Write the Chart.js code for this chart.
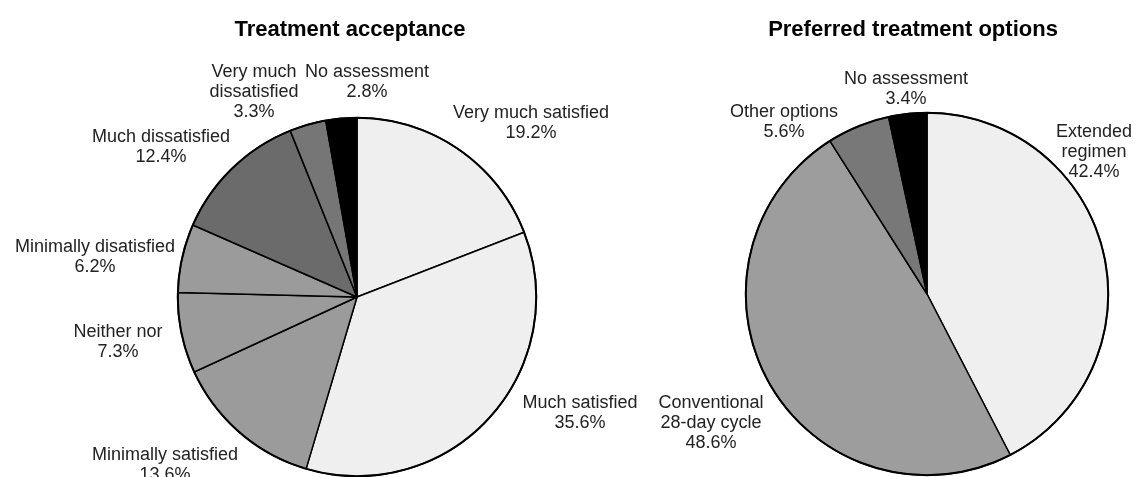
<!DOCTYPE html>
<html>
<head>
<meta charset="utf-8">
<script src="https://cdn.jsdelivr.net/npm/chart.js@4/dist/chart.umd.min.js"></script>
<style>
  html, body { margin: 0; padding: 0; background: #fff; }
  #wrap { position: relative; width: 1137px; height: 477px; overflow: hidden; }
  .box { position: absolute; top: 0; height: 477px; }
</style>
</head>
<body>
<div id="wrap">
  <div class="box" style="left:0;width:700px"><canvas id="accChart"></canvas></div>
  <div class="box" style="left:570px;width:567px"><canvas id="prefChart"></canvas></div>
</div>
<script>
// left pie: treatment acceptance (percent)
var accTitle = "Treatment acceptance";
var accLabels = ["Very much satisfied", "Much satisfied", "Minimally satisfied", "Neither nor",
                 "Minimally disatisfied", "Much dissatisfied", "Very much\ndissatisfied", "No assessment"];
var accValues = [19.2, 35.6, 13.6, 7.3, 6.2, 12.4, 3.3, 2.8];
var accColors = ["#efefef", "#efefef", "#9b9b9b", "#9b9b9b", "#9b9b9b", "#6b6b6b", "#767676", "#000000"];

// right pie: preferred treatment options (percent)
var prefTitle = "Preferred treatment options";
var prefLabels = ["Extended\nregimen", "Conventional\n28-day cycle", "Other options", "No assessment"];
var prefValues = [42.4, 48.6, 5.6, 3.4];
var prefColors = ["#efefef", "#9d9d9d", "#787878", "#000000"];

// where each label sits, relative to the pie centre
var accLabelPos = [[174, -184], [223, 106], [-192, 158], [-239, 35], [-262, -50], [-196, -160], [-103, -225], [10, -225]];
var prefLabelPos = [[167, -162], [-216, 109], [-143, -182], [-21, -215]];

var FONT = "'Liberation Sans', Arial, Helvetica, sans-serif";

var pieText = {
    id: "pieText",
    afterDraw: function(chart, args, opts) {
        var ctx = chart.ctx;
        var arcs = chart.getDatasetMeta(0).data;
        var cx = arcs[0].x, cy = arcs[0].y, r = arcs[0].outerRadius;
        ctx.save();
        // heavier outer rim
        ctx.beginPath();
        ctx.arc(cx, cy, r, 0, Math.PI * 2);
        ctx.lineWidth = 2;
        ctx.strokeStyle = "#000";
        ctx.stroke();

        ctx.textAlign = "center";
        ctx.textBaseline = "middle";
        ctx.fillStyle = "#000";
        ctx.font = "bold 22px " + FONT;
        ctx.fillText(opts.title, cx + opts.titleDx, 30);

        ctx.fillStyle = "#222";
        ctx.font = "18px " + FONT;
        var labels = chart.data.labels;
        var values = chart.data.datasets[0].data;
        for (var i = 0; i < labels.length; i++) {
            var lines = labels[i].split("\n");
            lines.push(values[i].toFixed(1) + "%");
            var p = opts.pos[i];
            for (var j = 0; j < lines.length; j++) {
                ctx.fillText(lines[j], cx + p[0], cy + p[1] + j * 20);
            }
        }
        ctx.restore();
    }
};

function makePie(id, labels, values, colors, title, titleDx, pos, padding) {
    return new Chart(document.getElementById(id), {
        type: "pie",
        data: {
            labels: labels,
            datasets: [{
                data: values,
                backgroundColor: colors,
                borderColor: "#000",
                borderWidth: 1.5
            }]
        },
        options: {
            responsive: true,
            maintainAspectRatio: false,
            animation: false,
            layout: { padding: padding },
            plugins: {
                legend: { display: false },
                tooltip: { enabled: false },
                pieText: { title: title, titleDx: titleDx, pos: pos }
            }
        },
        plugins: [pieText]
    });
}

makePie("accChart", accLabels, accValues, accColors, accTitle, -7, accLabelPos,
        { left: 177, right: 163, top: 117, bottom: 0 });
makePie("prefChart", prefLabels, prefValues, prefColors, prefTitle, -14, prefLabelPos,
        { left: 175, right: 28, top: 112, bottom: 1 });
</script>
</body>
</html>
